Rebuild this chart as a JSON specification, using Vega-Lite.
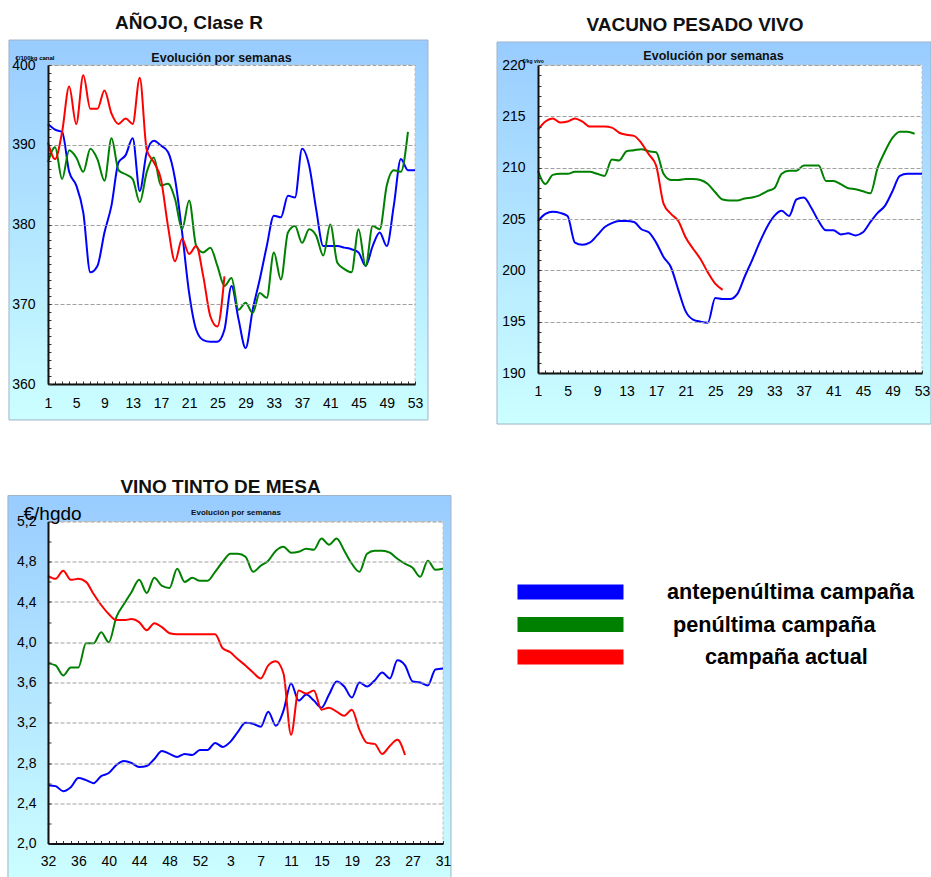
{
  "$schema": "https://vega.github.io/schema/vega-lite/v6.json",
  "padding": {"left": 7, "top": 14, "right": 0, "bottom": 0},
  "background": "white",
  "config": {
    "font": "Liberation Sans",
    "view": {"stroke": null},
    "axis": {
      "labelFont": "Liberation Sans", "labelFontSize": 14, "labelColor": "#000",
      "domainColor": "#111", "domainWidth": 2, "tickColor": "#333", "tickSize": -3,
      "gridColor": "#a0a0a0", "gridDash": [4, 2], "gridWidth": 1, "zindex": 1,
      "titleFont": "Liberation Sans", "titleColor": "#000", "labelOverlap": false, "labelFlush": false
    },
    "title": {
      "font": "Liberation Sans", "fontSize": 19, "fontWeight": "bold", "color": "#111",
      "anchor": "middle", "frame": "group"
    }
  },
  "concat": [
    {
      "width": 367, "height": 319,
      "title": {"text": "AÑOJO, Clase R", "dx": -42.5, "offset": 6.5, "zindex": 1},
      "layer": [
        {
          "data": {"values": [{}]},
          "mark": {"type": "rect", "clip": false, "stroke": "#9fb3c8", "strokeWidth": 1,
            "fill": {"gradient": "linear", "x1": 0, "y1": 0, "x2": 0, "y2": 1, "stops": [{"offset": 0, "color": "#99ccff"}, {"offset": 1, "color": "#ccffff"}]}},
          "encoding": {
            "x": {"datum": -4.53, "type": "quantitative", "scale": {"domain": [1, 53], "nice": false, "zero": false},
              "axis": {"title": "Evolución por semanas", "titleX": 173, "titleY": -327, "titleAngle": 0, "titleAlign": "center", "titleBaseline": "middle", "titleFontSize": 12.5, "titleFontWeight": "bold", "titleColor": "#111", "tickCount": 52, "labelExpr": "(datum.value - 1) % 4 == 0 ? datum.label : ''", "grid": false, "labelPadding": 15, "zindex": 1}},
            "x2": {"datum": 54.84},
            "y": {"datum": 355.49, "type": "quantitative", "scale": {"domain": [360, 400], "nice": false, "zero": false},
              "axis": {"tickCount": 40, "labelExpr": "datum.value % 10 == 0 ? datum.label : ''", "grid": true, "gridOpacity": {"condition": {"test": "datum.value % 10 == 0", "value": 1}, "value": 0}, "labelPadding": 16, "title": "€/100kg canal", "titleAngle": 0, "titleAlign": "left", "titleBaseline": "middle", "titleX": -33, "titleY": -8, "titleFontSize": 6, "titleFontWeight": "bold", "zindex": 1}},
            "y2": {"datum": 403.13}
          }
        },
        {
          "data": {"values": [{}]},
          "mark": {"type": "rect", "clip": false, "fill": "white", "stroke": "#c0c0c0", "strokeDash": [3, 2], "strokeWidth": 1},
          "encoding": {
            "x": {"datum": 1, "type": "quantitative", "scale": {"domain": [1, 53], "nice": false, "zero": false},
              "axis": {"title": "Evolución por semanas", "titleX": 173, "titleY": -327, "titleAngle": 0, "titleAlign": "center", "titleBaseline": "middle", "titleFontSize": 12.5, "titleFontWeight": "bold", "titleColor": "#111", "tickCount": 52, "labelExpr": "(datum.value - 1) % 4 == 0 ? datum.label : ''", "grid": false, "labelPadding": 15, "zindex": 1}},
            "x2": {"datum": 53},
            "y": {"datum": 360, "type": "quantitative", "scale": {"domain": [360, 400], "nice": false, "zero": false},
              "axis": {"tickCount": 40, "labelExpr": "datum.value % 10 == 0 ? datum.label : ''", "grid": true, "gridOpacity": {"condition": {"test": "datum.value % 10 == 0", "value": 1}, "value": 0}, "labelPadding": 16, "title": "€/100kg canal", "titleAngle": 0, "titleAlign": "left", "titleBaseline": "middle", "titleX": -33, "titleY": -8, "titleFontSize": 6, "titleFontWeight": "bold", "zindex": 1}},
            "y2": {"datum": 400}
          }
        },
        {
          "data": {"values": [
            {"semana": 1, "antepenúltima campaña": 392.6, "penúltima campaña": 387.8, "campaña actual": 390.3},
            {"semana": 2, "antepenúltima campaña": 391.9, "penúltima campaña": 389.7, "campaña actual": 388.2},
            {"semana": 3, "antepenúltima campaña": 391.6, "penúltima campaña": 385.7, "campaña actual": 391.6},
            {"semana": 4, "antepenúltima campaña": 386.6, "penúltima campaña": 389.3, "campaña actual": 397.3},
            {"semana": 5, "antepenúltima campaña": 384.9, "penúltima campaña": 388.4, "campaña actual": 392.6},
            {"semana": 6, "antepenúltima campaña": 381.5, "penúltima campaña": 386.6, "campaña actual": 398.7},
            {"semana": 7, "antepenúltima campaña": 374.0, "penúltima campaña": 389.5, "campaña actual": 394.5},
            {"semana": 8, "antepenúltima campaña": 374.8, "penúltima campaña": 388.2, "campaña actual": 394.5},
            {"semana": 9, "antepenúltima campaña": 379.0, "penúltima campaña": 385.5, "campaña actual": 396.8},
            {"semana": 10, "antepenúltima campaña": 382.4, "penúltima campaña": 390.8, "campaña actual": 393.9},
            {"semana": 11, "antepenúltima campaña": 387.8, "penúltima campaña": 386.8, "campaña actual": 392.6},
            {"semana": 12, "antepenúltima campaña": 388.7, "penúltima campaña": 386.3, "campaña actual": 393.3},
            {"semana": 13, "antepenúltima campaña": 390.8, "penúltima campaña": 385.7, "campaña actual": 392.6},
            {"semana": 14, "antepenúltima campaña": 384.2, "penúltima campaña": 382.8, "campaña actual": 398.4},
            {"semana": 15, "antepenúltima campaña": 389.1, "penúltima campaña": 386.6, "campaña actual": 389.3},
            {"semana": 16, "antepenúltima campaña": 390.5, "penúltima campaña": 388.4, "campaña actual": 387.8},
            {"semana": 17, "antepenúltima campaña": 389.9, "penúltima campaña": 384.9, "campaña actual": 385.7},
            {"semana": 18, "antepenúltima campaña": 389.1, "penúltima campaña": 385.1, "campaña actual": 379.8},
            {"semana": 19, "antepenúltima campaña": 385.7, "penúltima campaña": 383.2, "campaña actual": 375.4},
            {"semana": 20, "antepenúltima campaña": 379.0, "penúltima campaña": 379.4, "campaña actual": 378.2},
            {"semana": 21, "antepenúltima campaña": 371.4, "penúltima campaña": 383.0, "campaña actual": 376.3},
            {"semana": 22, "antepenúltima campaña": 366.8, "penúltima campaña": 377.3, "campaña actual": 377.3},
            {"semana": 23, "antepenúltima campaña": 365.5, "penúltima campaña": 376.5, "campaña actual": 373.5},
            {"semana": 24, "antepenúltima campaña": 365.3, "penúltima campaña": 377.1, "campaña actual": 368.5},
            {"semana": 25, "antepenúltima campaña": 365.3, "penúltima campaña": 374.8, "campaña actual": 367.2},
            {"semana": 26, "antepenúltima campaña": 366.8, "penúltima campaña": 372.3, "campaña actual": 373.5},
            {"semana": 27, "antepenúltima campaña": 372.3, "penúltima campaña": 373.3},
            {"semana": 28, "antepenúltima campaña": 368.1, "penúltima campaña": 369.3},
            {"semana": 29, "antepenúltima campaña": 364.5, "penúltima campaña": 370.2},
            {"semana": 30, "antepenúltima campaña": 369.3, "penúltima campaña": 368.9},
            {"semana": 31, "antepenúltima campaña": 373.1, "penúltima campaña": 371.4},
            {"semana": 32, "antepenúltima campaña": 377.3, "penúltima campaña": 370.8},
            {"semana": 33, "antepenúltima campaña": 381.1, "penúltima campaña": 376.5},
            {"semana": 34, "antepenúltima campaña": 380.9, "penúltima campaña": 373.1},
            {"semana": 35, "antepenúltima campaña": 383.6, "penúltima campaña": 379.0},
            {"semana": 36, "antepenúltima campaña": 383.4, "penúltima campaña": 379.8},
            {"semana": 37, "antepenúltima campaña": 389.5, "penúltima campaña": 377.7},
            {"semana": 38, "antepenúltima campaña": 387.4, "penúltima campaña": 379.4},
            {"semana": 39, "antepenúltima campaña": 381.9, "penúltima campaña": 378.6},
            {"semana": 40, "antepenúltima campaña": 377.3, "penúltima campaña": 376.1},
            {"semana": 41, "antepenúltima campaña": 377.3, "penúltima campaña": 380.0},
            {"semana": 42, "antepenúltima campaña": 377.3, "penúltima campaña": 375.2},
            {"semana": 43, "antepenúltima campaña": 377.1, "penúltima campaña": 374.4},
            {"semana": 44, "antepenúltima campaña": 376.9, "penúltima campaña": 374.0},
            {"semana": 45, "antepenúltima campaña": 376.5, "penúltima campaña": 379.4},
            {"semana": 46, "antepenúltima campaña": 374.8, "penúltima campaña": 374.8},
            {"semana": 47, "antepenúltima campaña": 377.3, "penúltima campaña": 379.8},
            {"semana": 48, "antepenúltima campaña": 379.0, "penúltima campaña": 379.4},
            {"semana": 49, "antepenúltima campaña": 377.3, "penúltima campaña": 384.9},
            {"semana": 50, "antepenúltima campaña": 382.4, "penúltima campaña": 386.8},
            {"semana": 51, "antepenúltima campaña": 388.2, "penúltima campaña": 386.6},
            {"semana": 52, "antepenúltima campaña": 386.8, "penúltima campaña": 391.6},
            {"semana": 53, "antepenúltima campaña": 386.8}
          ]},
          "transform": [{"fold": ["antepenúltima campaña", "penúltima campaña", "campaña actual"], "as": ["serie", "valor"]}],
          "mark": {"type": "line", "interpolate": "monotone", "strokeWidth": 2},
          "encoding": {
            "x": {"field": "semana", "type": "quantitative", "scale": {"domain": [1, 53], "nice": false, "zero": false},
              "axis": {"title": "Evolución por semanas", "titleX": 173, "titleY": -327, "titleAngle": 0, "titleAlign": "center", "titleBaseline": "middle", "titleFontSize": 12.5, "titleFontWeight": "bold", "titleColor": "#111", "tickCount": 52, "labelExpr": "(datum.value - 1) % 4 == 0 ? datum.label : ''", "grid": false, "labelPadding": 15, "zindex": 1}},
            "y": {"field": "valor", "type": "quantitative", "scale": {"domain": [360, 400], "nice": false, "zero": false},
              "axis": {"tickCount": 40, "labelExpr": "datum.value % 10 == 0 ? datum.label : ''", "grid": true, "gridOpacity": {"condition": {"test": "datum.value % 10 == 0", "value": 1}, "value": 0}, "labelPadding": 16, "title": "€/100kg canal", "titleAngle": 0, "titleAlign": "left", "titleBaseline": "middle", "titleX": -33, "titleY": -8, "titleFontSize": 6, "titleFontWeight": "bold", "zindex": 1}},
            "color": {"field": "serie", "type": "nominal",
              "scale": {"domain": ["antepenúltima campaña", "penúltima campaña", "campaña actual"], "range": ["#0000ff", "#008000", "#ff0000"]},
              "legend": {"title": null, "orient": "none", "legendX": 462, "legendY": 515, "direction": "vertical", "padding": 0,
                "symbolType": "stroke", "symbolSize": 11236, "symbolStrokeWidth": 15, "symbolOpacity": 1, "clipHeight": 24, "rowPadding": 8.5,
                "labelOffset": 36, "labelFont": "Liberation Sans", "labelFontSize": 21.7, "labelFontWeight": "bold", "labelColor": "#000", "labelLimit": 400,
                "encode": {"labels": {"update": {"dx": {"signal": "datum.label == 'campaña actual' ? 38 : (datum.label == 'penúltima campaña' ? 6 : 0)"}}}}}}
          }
        }
      ]
    },
    {
      "width": 384, "height": 308,
      "title": {"text": "VACUNO PESADO VIVO", "dx": -35, "offset": 6.25, "zindex": 1},
      "layer": [
        {
          "data": {"values": [{}]},
          "mark": {"type": "rect", "clip": false, "stroke": "#9fb3c8", "strokeWidth": 1,
            "fill": {"gradient": "linear", "x1": 0, "y1": 0, "x2": 0, "y2": 1, "stops": [{"offset": 0, "color": "#99ccff"}, {"offset": 1, "color": "#ccffff"}]}},
          "encoding": {
            "x": {"datum": -4.55, "type": "quantitative", "scale": {"domain": [1, 53], "nice": false, "zero": false},
              "axis": {"title": "Evolución por semanas", "titleX": 175, "titleY": -318, "titleAngle": 0, "titleAlign": "center", "titleBaseline": "middle", "titleFontSize": 12.5, "titleFontWeight": "bold", "titleColor": "#111", "tickCount": 52, "labelExpr": "(datum.value - 1) % 4 == 0 ? datum.label : ''", "grid": false, "labelPadding": 14, "zindex": 1}},
            "x2": {"datum": 54.22},
            "y": {"datum": 185.03, "type": "quantitative", "scale": {"domain": [190, 220], "nice": false, "zero": false},
              "axis": {"tickCount": 30, "labelExpr": "datum.value % 5 == 0 ? datum.label : ''", "grid": true, "gridOpacity": {"condition": {"test": "datum.value % 5 == 0", "value": 1}, "value": 0}, "labelPadding": 16, "title": "€/kg vivo", "titleAngle": 0, "titleAlign": "left", "titleBaseline": "middle", "titleX": -16, "titleY": -5, "titleFontSize": 5, "titleFontWeight": "bold", "zindex": 1}},
            "y2": {"datum": 222.24}
          }
        },
        {
          "data": {"values": [{}]},
          "mark": {"type": "rect", "clip": false, "fill": "white", "stroke": "#c0c0c0", "strokeDash": [3, 2], "strokeWidth": 1},
          "encoding": {
            "x": {"datum": 1, "type": "quantitative", "scale": {"domain": [1, 53], "nice": false, "zero": false},
              "axis": {"title": "Evolución por semanas", "titleX": 175, "titleY": -318, "titleAngle": 0, "titleAlign": "center", "titleBaseline": "middle", "titleFontSize": 12.5, "titleFontWeight": "bold", "titleColor": "#111", "tickCount": 52, "labelExpr": "(datum.value - 1) % 4 == 0 ? datum.label : ''", "grid": false, "labelPadding": 14, "zindex": 1}},
            "x2": {"datum": 53},
            "y": {"datum": 190, "type": "quantitative", "scale": {"domain": [190, 220], "nice": false, "zero": false},
              "axis": {"tickCount": 30, "labelExpr": "datum.value % 5 == 0 ? datum.label : ''", "grid": true, "gridOpacity": {"condition": {"test": "datum.value % 5 == 0", "value": 1}, "value": 0}, "labelPadding": 16, "title": "€/kg vivo", "titleAngle": 0, "titleAlign": "left", "titleBaseline": "middle", "titleX": -16, "titleY": -5, "titleFontSize": 5, "titleFontWeight": "bold", "zindex": 1}},
            "y2": {"datum": 220}
          }
        },
        {
          "data": {"values": [
            {"semana": 1, "antepenúltima campaña": 204.8, "penúltima campaña": 209.7, "campaña actual": 213.7},
            {"semana": 2, "antepenúltima campaña": 205.5, "penúltima campaña": 208.4, "campaña actual": 214.5},
            {"semana": 3, "antepenúltima campaña": 205.7, "penúltima campaña": 209.3, "campaña actual": 214.8},
            {"semana": 4, "antepenúltima campaña": 205.6, "penúltima campaña": 209.4, "campaña actual": 214.4},
            {"semana": 5, "antepenúltima campaña": 205.3, "penúltima campaña": 209.4, "campaña actual": 214.5},
            {"semana": 6, "antepenúltima campaña": 202.7, "penúltima campaña": 209.6, "campaña actual": 214.8},
            {"semana": 7, "antepenúltima campaña": 202.5, "penúltima campaña": 209.6, "campaña actual": 214.5},
            {"semana": 8, "antepenúltima campaña": 202.7, "penúltima campaña": 209.6, "campaña actual": 214.0},
            {"semana": 9, "antepenúltima campaña": 203.4, "penúltima campaña": 209.4, "campaña actual": 214.0},
            {"semana": 10, "antepenúltima campaña": 204.2, "penúltima campaña": 209.2, "campaña actual": 214.0},
            {"semana": 11, "antepenúltima campaña": 204.6, "penúltima campaña": 210.8, "campaña actual": 213.9},
            {"semana": 12, "antepenúltima campaña": 204.8, "penúltima campaña": 210.7, "campaña actual": 213.4},
            {"semana": 13, "antepenúltima campaña": 204.8, "penúltima campaña": 211.6, "campaña actual": 213.2},
            {"semana": 14, "antepenúltima campaña": 204.7, "penúltima campaña": 211.7, "campaña actual": 213.1},
            {"semana": 15, "antepenúltima campaña": 204.0, "penúltima campaña": 211.8, "campaña actual": 212.4},
            {"semana": 16, "antepenúltima campaña": 203.7, "penúltima campaña": 211.6, "campaña actual": 211.3},
            {"semana": 17, "antepenúltima campaña": 202.7, "penúltima campaña": 211.5, "campaña actual": 210.2},
            {"semana": 18, "antepenúltima campaña": 201.3, "penúltima campaña": 209.4, "campaña actual": 206.5},
            {"semana": 19, "antepenúltima campaña": 200.3, "penúltima campaña": 208.8, "campaña actual": 205.5},
            {"semana": 20, "antepenúltima campaña": 198.1, "penúltima campaña": 208.8, "campaña actual": 204.8},
            {"semana": 21, "antepenúltima campaña": 196.0, "penúltima campaña": 208.9, "campaña actual": 203.2},
            {"semana": 22, "antepenúltima campaña": 195.2, "penúltima campaña": 208.9, "campaña actual": 202.1},
            {"semana": 23, "antepenúltima campaña": 195.0, "penúltima campaña": 208.8, "campaña actual": 201.1},
            {"semana": 24, "antepenúltima campaña": 194.9, "penúltima campaña": 208.4, "campaña actual": 199.8},
            {"semana": 25, "antepenúltima campaña": 197.3, "penúltima campaña": 207.6, "campaña actual": 198.7},
            {"semana": 26, "antepenúltima campaña": 197.2, "penúltima campaña": 206.9, "campaña actual": 198.1},
            {"semana": 27, "antepenúltima campaña": 197.2, "penúltima campaña": 206.8},
            {"semana": 28, "antepenúltima campaña": 197.7, "penúltima campaña": 206.8},
            {"semana": 29, "antepenúltima campaña": 199.4, "penúltima campaña": 207.0},
            {"semana": 30, "antepenúltima campaña": 201.0, "penúltima campaña": 207.1},
            {"semana": 31, "antepenúltima campaña": 202.7, "penúltima campaña": 207.3},
            {"semana": 32, "antepenúltima campaña": 204.2, "penúltima campaña": 207.7},
            {"semana": 33, "antepenúltima campaña": 205.3, "penúltima campaña": 208.0},
            {"semana": 34, "antepenúltima campaña": 205.8, "penúltima campaña": 209.4},
            {"semana": 35, "antepenúltima campaña": 205.3, "penúltima campaña": 209.7},
            {"semana": 36, "antepenúltima campaña": 206.9, "penúltima campaña": 209.7},
            {"semana": 37, "antepenúltima campaña": 207.1, "penúltima campaña": 210.2},
            {"semana": 38, "antepenúltima campaña": 206.1, "penúltima campaña": 210.2},
            {"semana": 39, "antepenúltima campaña": 204.8, "penúltima campaña": 210.2},
            {"semana": 40, "antepenúltima campaña": 203.9, "penúltima campaña": 208.7},
            {"semana": 41, "antepenúltima campaña": 203.9, "penúltima campaña": 208.7},
            {"semana": 42, "antepenúltima campaña": 203.5, "penúltima campaña": 208.4},
            {"semana": 43, "antepenúltima campaña": 203.6, "penúltima campaña": 208.0},
            {"semana": 44, "antepenúltima campaña": 203.4, "penúltima campaña": 207.9},
            {"semana": 45, "antepenúltima campaña": 203.7, "penúltima campaña": 207.7},
            {"semana": 46, "antepenúltima campaña": 204.7, "penúltima campaña": 207.5},
            {"semana": 47, "antepenúltima campaña": 205.6, "penúltima campaña": 210.0},
            {"semana": 48, "antepenúltima campaña": 206.3, "penúltima campaña": 211.6},
            {"semana": 49, "antepenúltima campaña": 207.7, "penúltima campaña": 212.9},
            {"semana": 50, "antepenúltima campaña": 209.2, "penúltima campaña": 213.5},
            {"semana": 51, "antepenúltima campaña": 209.4, "penúltima campaña": 213.5},
            {"semana": 52, "antepenúltima campaña": 209.4, "penúltima campaña": 213.3},
            {"semana": 53, "antepenúltima campaña": 209.4}
          ]},
          "transform": [{"fold": ["antepenúltima campaña", "penúltima campaña", "campaña actual"], "as": ["serie", "valor"]}],
          "mark": {"type": "line", "interpolate": "monotone", "strokeWidth": 2},
          "encoding": {
            "x": {"field": "semana", "type": "quantitative", "scale": {"domain": [1, 53], "nice": false, "zero": false},
              "axis": {"title": "Evolución por semanas", "titleX": 175, "titleY": -318, "titleAngle": 0, "titleAlign": "center", "titleBaseline": "middle", "titleFontSize": 12.5, "titleFontWeight": "bold", "titleColor": "#111", "tickCount": 52, "labelExpr": "(datum.value - 1) % 4 == 0 ? datum.label : ''", "grid": false, "labelPadding": 14, "zindex": 1}},
            "y": {"field": "valor", "type": "quantitative", "scale": {"domain": [190, 220], "nice": false, "zero": false},
              "axis": {"tickCount": 30, "labelExpr": "datum.value % 5 == 0 ? datum.label : ''", "grid": true, "gridOpacity": {"condition": {"test": "datum.value % 5 == 0", "value": 1}, "value": 0}, "labelPadding": 16, "title": "€/kg vivo", "titleAngle": 0, "titleAlign": "left", "titleBaseline": "middle", "titleX": -16, "titleY": -5, "titleFontSize": 5, "titleFontWeight": "bold", "zindex": 1}},
            "color": {"field": "serie", "type": "nominal",
              "scale": {"domain": ["antepenúltima campaña", "penúltima campaña", "campaña actual"], "range": ["#0000ff", "#008000", "#ff0000"]},
              "legend": {"title": null, "orient": "none", "legendX": 462, "legendY": 515, "direction": "vertical", "padding": 0,
                "symbolType": "stroke", "symbolSize": 11236, "symbolStrokeWidth": 15, "symbolOpacity": 1, "clipHeight": 24, "rowPadding": 8.5,
                "labelOffset": 36, "labelFont": "Liberation Sans", "labelFontSize": 21.7, "labelFontWeight": "bold", "labelColor": "#000", "labelLimit": 400,
                "encode": {"labels": {"update": {"dx": {"signal": "datum.label == 'campaña actual' ? 38 : (datum.label == 'penúltima campaña' ? 6 : 0)"}}}}}}
          }
        }
      ]
    },
    {
      "width": 395, "height": 322,
      "title": {"text": "VINO TINTO DE MESA", "dx": -25, "offset": -1.5, "zindex": 1},
      "layer": [
        {
          "data": {"values": [{}]},
          "mark": {"type": "rect", "clip": false, "stroke": "#9fb3c8", "strokeWidth": 1,
            "fill": {"gradient": "linear", "x1": 0, "y1": 0, "x2": 0, "y2": 1, "stops": [{"offset": 0, "color": "#99ccff"}, {"offset": 1, "color": "#ccffff"}]}},
          "encoding": {
            "x": {"datum": -4.27, "type": "quantitative", "scale": {"domain": [1, 53], "nice": false, "zero": false},
              "axis": {"title": "Evolución por semanas", "titleX": 187.5, "titleY": -331, "titleAngle": 0, "titleAlign": "center", "titleBaseline": "middle", "titleFontSize": 8, "titleFontWeight": "bold", "titleColor": "#111", "tickCount": 52, "labelExpr": "(datum.value - 1) % 4 == 0 ? '' + (datum.value <= 22 ? datum.value + 31 : datum.value - 22) : ''", "grid": false, "labelPadding": 14, "zindex": 1}},
            "x2": {"datum": 54.05},
            "y": {"datum": 1.6, "type": "quantitative", "scale": {"domain": [2, 5.2], "nice": false, "zero": false},
              "axis": {"tickCount": 16, "labelExpr": "round(datum.value * 10) % 4 == 0 ? replace(format(datum.value, '.1f'), '.', ',') : ''", "grid": true, "gridOpacity": {"condition": {"test": "round(datum.value * 10) % 4 == 0", "value": 1}, "value": 0}, "labelPadding": 15, "title": "€/hgdo", "titleAngle": 0, "titleAlign": "left", "titleBaseline": "middle", "titleX": -25, "titleY": -8, "titleFontSize": 19, "titleFontWeight": "normal", "zindex": 1}},
            "y2": {"datum": 5.458}
          }
        },
        {
          "data": {"values": [{}]},
          "mark": {"type": "rect", "clip": false, "fill": "white", "stroke": "#c0c0c0", "strokeDash": [3, 2], "strokeWidth": 1},
          "encoding": {
            "x": {"datum": 1, "type": "quantitative", "scale": {"domain": [1, 53], "nice": false, "zero": false},
              "axis": {"title": "Evolución por semanas", "titleX": 187.5, "titleY": -331, "titleAngle": 0, "titleAlign": "center", "titleBaseline": "middle", "titleFontSize": 8, "titleFontWeight": "bold", "titleColor": "#111", "tickCount": 52, "labelExpr": "(datum.value - 1) % 4 == 0 ? '' + (datum.value <= 22 ? datum.value + 31 : datum.value - 22) : ''", "grid": false, "labelPadding": 14, "zindex": 1}},
            "x2": {"datum": 53},
            "y": {"datum": 2, "type": "quantitative", "scale": {"domain": [2, 5.2], "nice": false, "zero": false},
              "axis": {"tickCount": 16, "labelExpr": "round(datum.value * 10) % 4 == 0 ? replace(format(datum.value, '.1f'), '.', ',') : ''", "grid": true, "gridOpacity": {"condition": {"test": "round(datum.value * 10) % 4 == 0", "value": 1}, "value": 0}, "labelPadding": 15, "title": "€/hgdo", "titleAngle": 0, "titleAlign": "left", "titleBaseline": "middle", "titleX": -25, "titleY": -8, "titleFontSize": 19, "titleFontWeight": "normal", "zindex": 1}},
            "y2": {"datum": 5.2}
          }
        },
        {
          "data": {"values": [
            {"orden": 1, "semana": 32, "antepenúltima campaña": 2.58, "penúltima campaña": 3.79, "campaña actual": 4.66},
            {"orden": 2, "semana": 33, "antepenúltima campaña": 2.57, "penúltima campaña": 3.77, "campaña actual": 4.63},
            {"orden": 3, "semana": 34, "antepenúltima campaña": 2.52, "penúltima campaña": 3.67, "campaña actual": 4.71},
            {"orden": 4, "semana": 35, "antepenúltima campaña": 2.56, "penúltima campaña": 3.75, "campaña actual": 4.62},
            {"orden": 5, "semana": 36, "antepenúltima campaña": 2.65, "penúltima campaña": 3.75, "campaña actual": 4.63},
            {"orden": 6, "semana": 37, "antepenúltima campaña": 2.63, "penúltima campaña": 3.99, "campaña actual": 4.60},
            {"orden": 7, "semana": 38, "antepenúltima campaña": 2.60, "penúltima campaña": 3.99, "campaña actual": 4.48},
            {"orden": 8, "semana": 39, "antepenúltima campaña": 2.67, "penúltima campaña": 4.10, "campaña actual": 4.37},
            {"orden": 9, "semana": 40, "antepenúltima campaña": 2.70, "penúltima campaña": 4.00, "campaña actual": 4.28},
            {"orden": 10, "semana": 41, "antepenúltima campaña": 2.78, "penúltima campaña": 4.25, "campaña actual": 4.22},
            {"orden": 11, "semana": 42, "antepenúltima campaña": 2.82, "penúltima campaña": 4.38, "campaña actual": 4.22},
            {"orden": 12, "semana": 43, "antepenúltima campaña": 2.80, "penúltima campaña": 4.50, "campaña actual": 4.23},
            {"orden": 13, "semana": 44, "antepenúltima campaña": 2.76, "penúltima campaña": 4.62, "campaña actual": 4.20},
            {"orden": 14, "semana": 45, "antepenúltima campaña": 2.77, "penúltima campaña": 4.49, "campaña actual": 4.12},
            {"orden": 15, "semana": 46, "antepenúltima campaña": 2.84, "penúltima campaña": 4.64, "campaña actual": 4.19},
            {"orden": 16, "semana": 47, "antepenúltima campaña": 2.92, "penúltima campaña": 4.56, "campaña actual": 4.15},
            {"orden": 17, "semana": 48, "antepenúltima campaña": 2.89, "penúltima campaña": 4.54, "campaña actual": 4.09},
            {"orden": 18, "semana": 49, "antepenúltima campaña": 2.86, "penúltima campaña": 4.73, "campaña actual": 4.08},
            {"orden": 19, "semana": 50, "antepenúltima campaña": 2.89, "penúltima campaña": 4.60, "campaña actual": 4.08},
            {"orden": 20, "semana": 51, "antepenúltima campaña": 2.88, "penúltima campaña": 4.64, "campaña actual": 4.08},
            {"orden": 21, "semana": 52, "antepenúltima campaña": 2.93, "penúltima campaña": 4.61, "campaña actual": 4.08},
            {"orden": 22, "semana": 53, "antepenúltima campaña": 2.93, "penúltima campaña": 4.61, "campaña actual": 4.08},
            {"orden": 23, "semana": 1, "antepenúltima campaña": 3.00, "penúltima campaña": 4.70, "campaña actual": 4.08},
            {"orden": 24, "semana": 2, "antepenúltima campaña": 2.96, "penúltima campaña": 4.80, "campaña actual": 3.94},
            {"orden": 25, "semana": 3, "antepenúltima campaña": 3.01, "penúltima campaña": 4.88, "campaña actual": 3.90},
            {"orden": 26, "semana": 4, "antepenúltima campaña": 3.11, "penúltima campaña": 4.88, "campaña actual": 3.83},
            {"orden": 27, "semana": 5, "antepenúltima campaña": 3.20, "penúltima campaña": 4.85, "campaña actual": 3.77},
            {"orden": 28, "semana": 6, "antepenúltima campaña": 3.19, "penúltima campaña": 4.70, "campaña actual": 3.70},
            {"orden": 29, "semana": 7, "antepenúltima campaña": 3.16, "penúltima campaña": 4.76, "campaña actual": 3.64},
            {"orden": 30, "semana": 8, "antepenúltima campaña": 3.31, "penúltima campaña": 4.81, "campaña actual": 3.77},
            {"orden": 31, "semana": 9, "antepenúltima campaña": 3.17, "penúltima campaña": 4.91, "campaña actual": 3.81},
            {"orden": 32, "semana": 10, "antepenúltima campaña": 3.32, "penúltima campaña": 4.95, "campaña actual": 3.69},
            {"orden": 33, "semana": 11, "antepenúltima campaña": 3.59, "penúltima campaña": 4.89, "campaña actual": 3.08},
            {"orden": 34, "semana": 12, "antepenúltima campaña": 3.42, "penúltima campaña": 4.90, "campaña actual": 3.52},
            {"orden": 35, "semana": 13, "antepenúltima campaña": 3.48, "penúltima campaña": 4.93, "campaña actual": 3.49},
            {"orden": 36, "semana": 14, "antepenúltima campaña": 3.42, "penúltima campaña": 4.92, "campaña actual": 3.52},
            {"orden": 37, "semana": 15, "antepenúltima campaña": 3.35, "penúltima campaña": 5.03, "campaña actual": 3.33},
            {"orden": 38, "semana": 16, "antepenúltima campaña": 3.48, "penúltima campaña": 4.97, "campaña actual": 3.35},
            {"orden": 39, "semana": 17, "antepenúltima campaña": 3.61, "penúltima campaña": 5.03, "campaña actual": 3.31},
            {"orden": 40, "semana": 18, "antepenúltima campaña": 3.56, "penúltima campaña": 4.91, "campaña actual": 3.27},
            {"orden": 41, "semana": 19, "antepenúltima campaña": 3.45, "penúltima campaña": 4.78, "campaña actual": 3.33},
            {"orden": 42, "semana": 20, "antepenúltima campaña": 3.60, "penúltima campaña": 4.70, "campaña actual": 3.13},
            {"orden": 43, "semana": 21, "antepenúltima campaña": 3.56, "penúltima campaña": 4.88, "campaña actual": 3.00},
            {"orden": 44, "semana": 22, "antepenúltima campaña": 3.62, "penúltima campaña": 4.91, "campaña actual": 2.99},
            {"orden": 45, "semana": 23, "antepenúltima campaña": 3.70, "penúltima campaña": 4.91, "campaña actual": 2.89},
            {"orden": 46, "semana": 24, "antepenúltima campaña": 3.64, "penúltima campaña": 4.89, "campaña actual": 2.97},
            {"orden": 47, "semana": 25, "antepenúltima campaña": 3.82, "penúltima campaña": 4.83, "campaña actual": 3.03},
            {"orden": 48, "semana": 26, "antepenúltima campaña": 3.77, "penúltima campaña": 4.78, "campaña actual": 2.88},
            {"orden": 49, "semana": 27, "antepenúltima campaña": 3.61, "penúltima campaña": 4.74},
            {"orden": 50, "semana": 28, "antepenúltima campaña": 3.60, "penúltima campaña": 4.65},
            {"orden": 51, "semana": 29, "antepenúltima campaña": 3.57, "penúltima campaña": 4.81},
            {"orden": 52, "semana": 30, "antepenúltima campaña": 3.73, "penúltima campaña": 4.72},
            {"orden": 53, "semana": 31, "antepenúltima campaña": 3.74, "penúltima campaña": 4.73}
          ]},
          "transform": [{"fold": ["antepenúltima campaña", "penúltima campaña", "campaña actual"], "as": ["serie", "valor"]}],
          "mark": {"type": "line", "interpolate": "monotone", "strokeWidth": 2},
          "encoding": {
            "x": {"field": "orden", "type": "quantitative", "scale": {"domain": [1, 53], "nice": false, "zero": false},
              "axis": {"title": "Evolución por semanas", "titleX": 187.5, "titleY": -331, "titleAngle": 0, "titleAlign": "center", "titleBaseline": "middle", "titleFontSize": 8, "titleFontWeight": "bold", "titleColor": "#111", "tickCount": 52, "labelExpr": "(datum.value - 1) % 4 == 0 ? '' + (datum.value <= 22 ? datum.value + 31 : datum.value - 22) : ''", "grid": false, "labelPadding": 14, "zindex": 1}},
            "y": {"field": "valor", "type": "quantitative", "scale": {"domain": [2, 5.2], "nice": false, "zero": false},
              "axis": {"tickCount": 16, "labelExpr": "round(datum.value * 10) % 4 == 0 ? replace(format(datum.value, '.1f'), '.', ',') : ''", "grid": true, "gridOpacity": {"condition": {"test": "round(datum.value * 10) % 4 == 0", "value": 1}, "value": 0}, "labelPadding": 15, "title": "€/hgdo", "titleAngle": 0, "titleAlign": "left", "titleBaseline": "middle", "titleX": -25, "titleY": -8, "titleFontSize": 19, "titleFontWeight": "normal", "zindex": 1}},
            "color": {"field": "serie", "type": "nominal",
              "scale": {"domain": ["antepenúltima campaña", "penúltima campaña", "campaña actual"], "range": ["#0000ff", "#008000", "#ff0000"]},
              "legend": {"title": null, "orient": "none", "legendX": 462, "legendY": 515, "direction": "vertical", "padding": 0,
                "symbolType": "stroke", "symbolSize": 11236, "symbolStrokeWidth": 15, "symbolOpacity": 1, "clipHeight": 24, "rowPadding": 8.5,
                "labelOffset": 36, "labelFont": "Liberation Sans", "labelFontSize": 21.7, "labelFontWeight": "bold", "labelColor": "#000", "labelLimit": 400,
                "encode": {"labels": {"update": {"dx": {"signal": "datum.label == 'campaña actual' ? 38 : (datum.label == 'penúltima campaña' ? 6 : 0)"}}}}}}
          }
        }
      ]
    }
  ],
  "columns": 2,
  "align": "none",
  "spacing": {"row": 52.5, "column": 44}
}
